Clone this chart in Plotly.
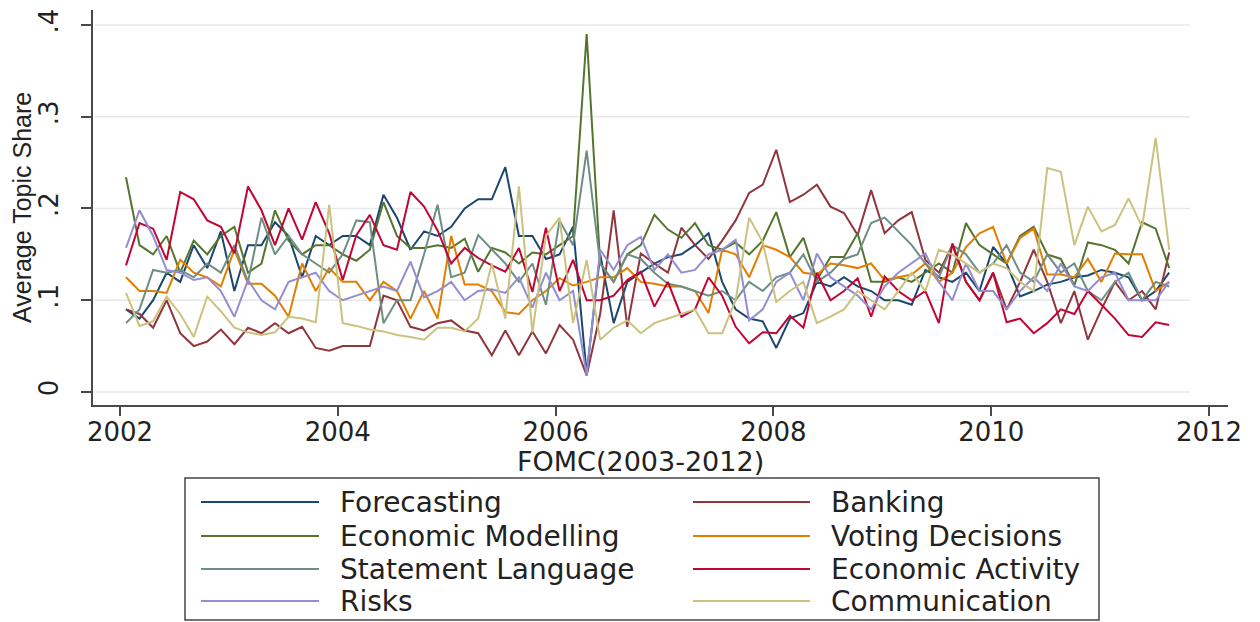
import plotly.graph_objects as go

# FOMC meeting dates (decimal years)
dates = [2002.055, 2002.179, 2002.304, 2002.428, 2002.553, 2002.677, 2002.801, 2002.926,
         2003.050, 2003.175, 2003.299, 2003.423, 2003.548, 2003.672, 2003.797, 2003.921,
         2004.045, 2004.170, 2004.294, 2004.419, 2004.543, 2004.667, 2004.792, 2004.916,
         2005.041, 2005.165, 2005.289, 2005.414, 2005.538, 2005.663, 2005.787, 2005.911,
         2006.036, 2006.160, 2006.285, 2006.409, 2006.533, 2006.658, 2006.782, 2006.907,
         2007.031, 2007.155, 2007.280, 2007.404, 2007.529, 2007.653, 2007.777, 2007.902,
         2008.026, 2008.151, 2008.275, 2008.399, 2008.524, 2008.648, 2008.773, 2008.897,
         2009.021, 2009.146, 2009.270, 2009.395, 2009.519, 2009.643, 2009.768, 2009.892,
         2010.017, 2010.141, 2010.265, 2010.390, 2010.514, 2010.639, 2010.763, 2010.887,
         2011.012, 2011.136, 2011.261, 2011.385, 2011.510, 2011.634]

forecasting = [.09, .08, .10, .13, .12, .16, .135, .175, .11, .16,
               .16, .185, .17, .125, .17, .16, .17, .17, .16, .215,
               .19, .155, .175, .17, .18, .20, .21, .21, .245, .17,
               .17, .145, .15, .18, .02, .15, .075, .12, .13, .14,
               .147, .15, .16, .173, .12, .09, .08, .077, .048, .08,
               .086, .12, .115, .125, .115, .11, .10, .10, .095, .133,
               .125, .12, .13, .11, .158, .14, .104, .11, .117, .12,
               .125, .127, .133, .13, .125, .10, .11, .13]

banking = [.09, .085, .07, .10, .064, .05, .055, .068, .052, .07,
           .064, .075, .064, .071, .048, .045, .05, .05, .05, .105,
           .10, .071, .067, .075, .078, .067, .064, .04, .067, .04,
           .066, .042, .073, .057, .018, .085, .198, .071, .151, .14,
           .13, .179, .16, .145, .165, .187, .217, .226, .264, .207,
           .215, .226, .202, .195, .171, .22, .173, .187, .196, .144,
           .13, .16, .12, .10, .13, .09, .12, .155, .12, .075,
           .11, .057, .09, .12, .10, .11, .09, .152]

econ_modelling = [.234, .16, .15, .17, .13, .165, .15, .17, .18, .13,
                  .14, .198, .165, .15, .16, .16, .15, .143, .155, .207,
                  .17, .157, .157, .16, .157, .167, .131, .157, .152, .14,
                  .152, .15, .16, .17, .39, .14, .12, .15, .16, .193,
                  .177, .168, .184, .16, .155, .163, .15, .165, .196, .147,
                  .168, .122, .147, .147, .173, .12, .12, .125, .12, .13,
                  .14, .13, .184, .16, .15, .14, .17, .18, .15, .145,
                  .116, .163, .16, .155, .14, .185, .178, .135]

voting = [.125, .11, .11, .108, .144, .13, .125, .115, .155, .118,
          .118, .105, .082, .14, .11, .135, .12, .12, .10, .12,
          .11, .08, .11, .08, .17, .117, .117, .11, .087, .085,
          .10, .11, .124, .116, .12, .125, .125, .135, .12, .118,
          .115, .115, .11, .086, .155, .15, .125, .16, .155, .147,
          .13, .128, .14, .138, .135, .14, .122, .125, .128, .14,
          .12, .13, .158, .173, .18, .14, .168, .178, .128, .128,
          .125, .145, .12, .151, .15, .15, .11, .12]

statement = [.075, .09, .133, .13, .133, .125, .14, .13, .16, .12,
             .19, .15, .17, .15, .14, .13, .15, .187, .185, .075,
             .10, .10, .15, .204, .125, .13, .171, .155, .14, .12,
             .14, .095, .187, .16, .263, .14, .12, .15, .145, .13,
             .118, .115, .11, .105, .11, .10, .12, .11, .125, .13,
             .15, .12, .13, .145, .15, .184, .19, .175, .16, .14,
             .125, .16, .15, .13, .14, .16, .13, .12, .15, .13,
             .14, .11, .10, .12, .13, .10, .12, .115]

econ_activity = [.138, .184, .178, .144, .218, .21, .187, .18, .151, .224,
                 .198, .16, .20, .166, .207, .173, .122, .171, .193, .16,
                 .155, .218, .202, .176, .14, .157, .146, .138, .131, .157,
                 .109, .179, .11, .144, .10, .10, .105, .122, .131, .093,
                 .12, .082, .09, .125, .105, .071, .053, .065, .064, .083,
                 .07, .13, .10, .11, .124, .082, .126, .11, .10, .11,
                 .075, .162, .12, .10, .13, .076, .08, .064, .075, .09,
                 .085, .11, .095, .08, .062, .06, .076, .073]

risks = [.157, .198, .17, .133, .13, .122, .125, .11, .082, .122,
         .10, .09, .12, .125, .13, .11, .10, .105, .11, .115,
         .11, .142, .103, .11, .12, .10, .11, .112, .108, .125,
         .092, .13, .10, .11, .018, .155, .133, .16, .169, .133,
         .15, .13, .133, .15, .155, .166, .078, .09, .12, .13,
         .10, .151, .125, .115, .105, .09, .115, .13, .14, .151,
         .12, .10, .14, .11, .11, .09, .11, .125, .11, .14,
         .115, .11, .125, .13, .10, .10, .10, .12]

communication = [.108, .072, .077, .104, .085, .06, .104, .088, .07, .065,
                 .062, .065, .082, .08, .076, .204, .075, .072, .068, .066,
                 .062, .06, .057, .07, .07, .066, .08, .14, .08, .224,
                 .065, .17, .19, .075, .144, .057, .07, .078, .064, .075,
                 .08, .085, .09, .064, .064, .10, .19, .163, .098, .11,
                 .12, .075, .082, .09, .11, .10, .09, .11, .13, .11,
                 .155, .15, .14, .13, .14, .135, .12, .11, .244, .24,
                 .16, .202, .175, .182, .211, .18, .277, .155]

series_names = ["Forecasting", "Banking", "Economic Modelling", "Voting Decisions",
                "Statement Language", "Economic Activity", "Risks", "Communication"]
series_values = [forecasting, banking, econ_modelling, voting,
                 statement, econ_activity, risks, communication]
colors = ["#1a476f", "#90353b", "#55752f", "#e37e00",
          "#6e8e84", "#c10534", "#938dd2", "#cac27e"]

y_ticks = [0, 0.1, 0.2, 0.3, 0.4]
y_ticktext = ["0", ".1", ".2", ".3", ".4"]
x_ticks = [2002, 2004, 2006, 2008, 2010, 2012]

# plot area in pixels (for placing paper-referenced decorations)
L, R, T, B = 93, 1228, 10, 405


def px(x):
    return (x - L) / (R - L)


def py(y):
    return (B - y) / (B - T)


fig = go.Figure()
for name, vals, col in zip(series_names, series_values, colors):
    fig.add_trace(go.Scatter(x=dates, y=vals, mode="lines", name=name,
                             line=dict(color=col, width=2), showlegend=False))

shapes = []
for v in y_ticks:
    shapes.append(dict(type="line", xref="paper", yref="y", x0=px(95), x1=px(1190),
                       y0=v, y1=v, line=dict(color="#e6e9ea", width=1.5), layer="below"))

# legend drawn as a framed two-column key
annotations = []
shapes.append(dict(type="rect", xref="paper", yref="paper",
                   x0=px(185), x1=px(1099), y0=py(478), y1=py(620),
                   line=dict(color="#444", width=1.5), fillcolor="rgba(0,0,0,0)"))
row_y = [502, 536, 569, 601]
col_line = [(201, 319), (693, 810)]
col_text = [338, 829]
for i, (name, col) in enumerate(zip(series_names, colors)):
    r, c = divmod(i, 2)
    yy = py(row_y[r])
    shapes.append(dict(type="line", xref="paper", yref="paper",
                       x0=px(col_line[c][0]), x1=px(col_line[c][1]), y0=yy, y1=yy,
                       line=dict(color=col, width=2)))
    annotations.append(dict(text=name, xref="paper", yref="paper",
                            x=px(col_text[c]), y=yy, xanchor="left", yanchor="middle",
                            showarrow=False,
                            font=dict(family="DejaVu Sans", size=28, color="#222")))

annotations.append(dict(text="FOMC(2003-2012)", xref="paper", yref="paper",
                        x=px(640), y=py(462), xanchor="center", yanchor="middle",
                        showarrow=False,
                        font=dict(family="DejaVu Sans", size=27, color="#222")))
annotations.append(dict(text="Average Topic Share", xref="paper", yref="paper",
                        x=px(22), y=py(208), xanchor="center", yanchor="middle",
                        textangle=-90, showarrow=False,
                        font=dict(family="Liberation Sans", size=25, color="#222")))

axis_col = "#4a4a4a"
fig.update_layout(
    width=1260, height=622,
    margin=dict(l=L, r=1260 - R, t=T, b=622 - B, autoexpand=False),
    paper_bgcolor="white", plot_bgcolor="white",
    showlegend=False,
    xaxis=dict(range=[2001.752, 2012.174], tickvals=x_ticks,
               ticktext=[str(t) for t in x_ticks],
               showgrid=False, zeroline=False, showline=True,
               linecolor=axis_col, linewidth=1.5,
               ticks="outside", ticklen=9, tickwidth=1.5, tickcolor=axis_col,
               ticklabelstandoff=-6,
               tickfont=dict(family="DejaVu Sans", size=26, color="#222")),
    yaxis=dict(range=[-0.0142, 0.4163], tickvals=y_ticks, ticktext=y_ticktext,
               tickangle=-90,
               showgrid=False, zeroline=False, showline=True,
               linecolor=axis_col, linewidth=1.5,
               ticks="outside", ticklen=10, tickwidth=1.5, tickcolor=axis_col,
               ticklabelstandoff=13,
               tickfont=dict(family="DejaVu Sans", size=26, color="#222")),
    shapes=shapes,
    annotations=annotations,
)

fig.write_html("out.html")
